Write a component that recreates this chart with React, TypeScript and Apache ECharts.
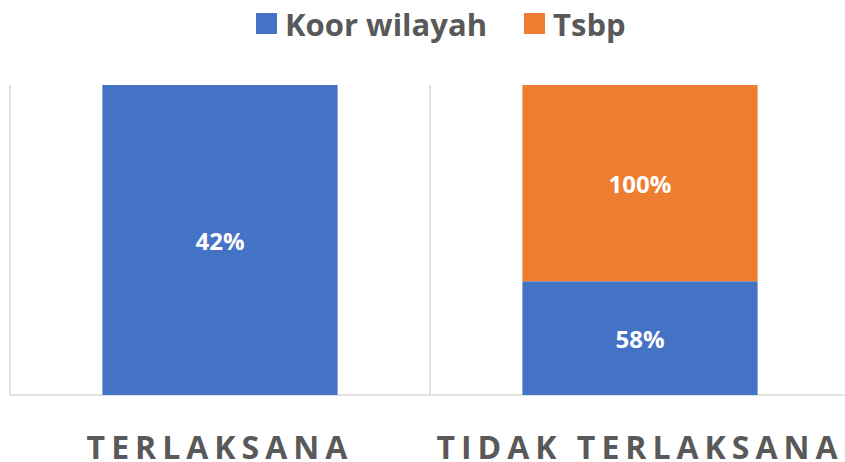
import React, { useEffect, useRef } from "react";
import * as echarts from "echarts";

const categories = ["TERLAKSANA", "TIDAK TERLAKSANA"];
const koorWilayah = [42, 58];
const tsbp = [0, 100];
const seriesNames = ["Koor wilayah", "Tsbp"];

export default function App() {
  const ref = useRef<HTMLDivElement>(null);
  useEffect(() => {
    if (!ref.current) return;
    const chart = echarts.init(ref.current, undefined, { renderer: "svg" });
    const totals = categories.map((_, i) => koorWilayah[i] + tsbp[i]);
    const mk = (vals: number[]) =>
      vals.map((v, i) => ({ value: totals[i] ? v / totals[i] : 0, raw: v }));
    const labelCfg = {
      show: true,
      position: "inside",
      color: "#ffffff",
      fontSize: 24,
      fontWeight: "bold",
      fontFamily: "Open Sans",
      formatter: (p: any) => (p.data.raw ? p.data.raw + "%" : ""),
    };
    chart.setOption({
      animation: false,
      color: ["#4472C4", "#ED7D31"],
      legend: {
        top: 3,
        left: 251,
        itemWidth: 21,
        itemHeight: 21,
        itemGap: 37,
        icon: "rect",
        textStyle: {
          fontSize: 31,
          fontWeight: "bold",
          fontFamily: "Open Sans",
          color: "#595959",
          padding: [0, 0, 0, 3],
        },
        data: seriesNames,
      },
      grid: { left: 10, width: 840, top: 85, bottom: 67, containLabel: false },
      xAxis: {
        type: "category",
        data: categories,
        axisLine: { lineStyle: { color: "#d9d9d9", width: 1.5 } },
        axisTick: { show: false },
        splitLine: { show: true, lineStyle: { color: "#d9d9d9", width: 1.5 } },
        axisLabel: {
          fontSize: 32,
          fontWeight: "bold",
          fontFamily: "Open Sans",
          color: "#595959",
          margin: 35,
        },
      },
      yAxis: {
        type: "value",
        min: 0,
        max: 1,
        show: false,
        splitLine: { show: false },
      },
      series: [
        {
          name: seriesNames[0],
          type: "bar",
          stack: "total",
          barWidth: "56%",
          data: mk(koorWilayah),
          label: labelCfg,
        },
        {
          name: seriesNames[1],
          type: "bar",
          stack: "total",
          barWidth: "56%",
          data: mk(tsbp),
          label: labelCfg,
        },
      ],
    });
    return () => chart.dispose();
  }, []);
  return (
    <div style={{ position: "absolute", left: 0, top: 0, width: 845, height: 462, overflow: "hidden", background: "#fff" }}>
      <style>{`text[style*="32px"] { letter-spacing: 6px; }`}</style>
      <div ref={ref} style={{ width: 850, height: 462 }} />
    </div>
  );
}
